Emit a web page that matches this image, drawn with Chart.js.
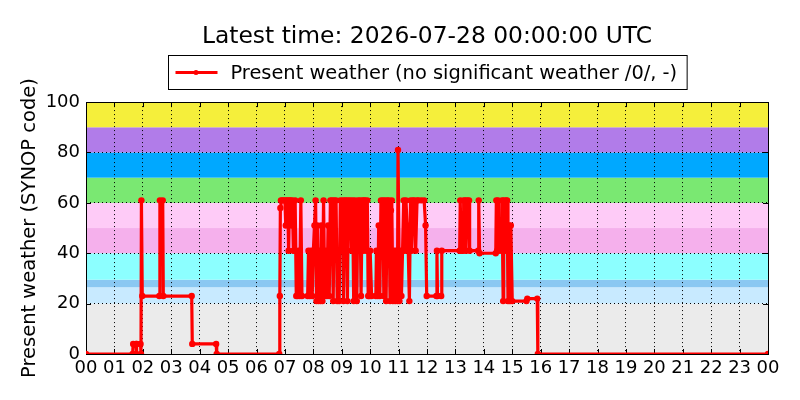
<!DOCTYPE html>
<html>
<head>
<meta charset="utf-8">
<script src="https://cdn.jsdelivr.net/npm/chart.js@4.4.0/dist/chart.umd.min.js"></script>
<style>
  html, body { margin: 0; padding: 0; background: #fff; }
  #wrap { width: 800px; height: 400px; }
</style>
</head>
<body>
<div id="wrap"><canvas id="wxChart"></canvas></div>
<script>
// time of day in hours (UTC) and the reported SYNOP present weather code
const hours = [
  0, 1.64, 1.66, 1.76, 1.77, 1.79, 1.92, 1.935, 1.95, 1.98,
  2.58, 2.6, 2.7, 2.72, 3.72, 3.74, 4.58, 4.6, 6.8, 6.82, 6.84, 6.86,
  6.9, 6.95, 7.0, 7.03, 7.06, 7.1, 7.13, 7.16, 7.2, 7.23, 7.26, 7.3, 7.33, 7.36, 7.4, 7.45, 7.48, 7.52, 7.56, 7.6, 7.8, 7.83, 7.88, 7.92, 7.96,
  8.0, 8.04, 8.08, 8.11, 8.14, 8.18, 8.22, 8.25, 8.28, 8.32, 8.36, 8.4, 8.44, 8.48, 8.52, 8.56, 8.6, 8.63, 8.66, 8.7, 8.73, 8.76, 8.8, 8.84, 8.88, 8.91, 8.95,
  9.0, 9.03, 9.06, 9.1, 9.13, 9.16, 9.2, 9.23, 9.26, 9.3, 9.34, 9.38, 9.42, 9.46, 9.5, 9.53, 9.57, 9.6, 9.64, 9.68, 9.72, 9.75, 9.78, 9.82, 9.86, 9.9, 9.93, 9.97,
  10.0, 10.05, 10.2, 10.22, 10.27, 10.3, 10.34, 10.38, 10.42, 10.45, 10.48, 10.52, 10.56, 10.6, 10.63, 10.66, 10.7, 10.73, 10.76, 10.8, 10.84, 10.88, 10.92, 10.96,
  10.98, 11.03, 11.06, 11.1, 11.14, 11.18, 11.22, 11.26, 11.3, 11.34, 11.38, 11.42, 11.46, 11.5, 11.55, 11.6, 11.65, 11.7, 11.8, 11.9, 11.95, 11.99,
  12.33, 12.35, 12.37, 12.5, 12.52, 13.15, 13.17, 13.2, 13.27, 13.29, 13.35, 13.37, 13.42, 13.48, 13.5, 13.8, 13.82, 13.85,
  14.42, 14.44, 14.47, 14.5, 14.52, 14.62, 14.64, 14.68, 14.7, 14.75, 14.78, 14.82, 14.85, 14.88, 14.92, 14.95, 15.0, 15.5, 15.53, 15.88, 15.9, 24
];
const codes = [
  0, 0, 4, 4, 0, 4, 4, 0, 61, 23,
  23, 61, 61, 23, 23, 4, 4, 0, 0, 23, 58, 61,
  61, 61, 61, 51, 61, 61, 41, 61, 61, 51, 61, 41, 41, 61, 23, 23, 41, 23, 61, 23, 23, 41, 23, 41, 23,
  41, 51, 61, 21, 51, 21, 41, 21, 51, 21, 61, 23, 41, 23, 51, 23, 61, 41, 61, 21, 61, 41, 61, 21, 41, 21, 61,
  41, 61, 21, 61, 41, 61, 21, 61, 51, 61, 41, 61, 21, 61, 51, 21, 61, 41, 61, 23, 61, 41, 61, 61, 41, 61, 23, 23,
  41, 23, 23, 41, 23, 51, 23, 61, 41, 61, 23, 61, 21, 61, 41, 61, 21, 57, 61, 21, 41, 21, 41, 21,
  81, 21, 41, 23, 41, 61, 41, 61, 51, 41, 21, 61, 41, 61, 61, 41, 61, 61, 61, 61, 51, 23,
  23, 41, 23, 23, 41, 41, 61, 41, 41, 61, 61, 41, 61, 61, 41, 41, 61, 40,
  40, 61, 41, 61, 41, 41, 61, 21, 61, 41, 61, 61, 21, 51, 21, 51, 21, 21, 22, 22, 0, 0
];

// background bands of code groups
const bandLow  = [0, 20, 26.5, 29.5, 40, 50, 60, 70, 80, 90];
const bandHigh = [20, 26.5, 29.5, 40, 50, 60, 70, 80, 90, 100];
const bandColors = ['#ebebeb', '#c8eaff', '#8ac8f2', '#8cffff', '#f5b0ec',
                    '#fecbf7', '#7ae872', '#00a8ff', '#b17ce9', '#f5ef3b'];

const xTickLabels = ['00','01','02','03','04','05','06','07','08','09','10','11',
                     '12','13','14','15','16','17','18','19','20','21','22','23','00'];
const yTicks = [0, 20, 40, 60, 80, 100];

const seriesLabel = 'Present weather (no significant weather /0/, -)';
const FONT = 'DejaVu Sans';

const points = hours.map((h, i) => ({x: h, y: codes[i]}));

const bandsPlugin = {
  id: 'bands',
  beforeDraw(chart) {
    const {ctx, chartArea: a, scales: {y}} = chart;
    ctx.save();
    for (let i = 0; i < bandLow.length; i++) {
      const top = y.getPixelForValue(bandHigh[i]);
      const bot = y.getPixelForValue(bandLow[i]);
      ctx.fillStyle = bandColors[i];
      ctx.fillRect(a.left, top, a.right - a.left, bot - top);
    }
    ctx.restore();
  }
};

// box outline and inward tick marks, like the plotting tool's classic style
const framePlugin = {
  id: 'frame',
  beforeDatasetsDraw(chart) {
    const {ctx, chartArea: a, scales: {x, y}} = chart;
    ctx.save();
    ctx.strokeStyle = '#000';
    ctx.lineWidth = 1;
    ctx.beginPath();
    x.ticks.forEach(t => {
      const px = Math.round(x.getPixelForValue(t.value)) + 0.5;
      ctx.moveTo(px, a.bottom); ctx.lineTo(px, a.bottom - 5);
      ctx.moveTo(px, a.top); ctx.lineTo(px, a.top + 5);
    });
    y.ticks.forEach(t => {
      const py = Math.round(y.getPixelForValue(t.value)) + 0.5;
      ctx.moveTo(a.left, py); ctx.lineTo(a.left + 5, py);
      ctx.moveTo(a.right, py); ctx.lineTo(a.right - 5, py);
    });
    ctx.stroke();
    ctx.strokeRect(Math.round(a.left) + 0.5, Math.round(a.top) + 0.5,
                   Math.round(a.right - a.left), Math.round(a.bottom - a.top));
    ctx.restore();
  }
};

const boxLegendPlugin = {
  id: 'boxLegend',
  afterDraw(chart) {
    const {ctx, chartArea: a} = chart;
    const ds = chart.data.datasets[0];
    ctx.save();
    ctx.font = '19.4px "' + FONT + '"';
    const tw = ctx.measureText(ds.label).width;
    const w = 7 + 42 + 13 + tw + 10;
    const cx = (a.left + a.right) / 2;
    const left = Math.round(cx - w / 2) + 0.5;
    const top = 55.5, h = 34;
    ctx.fillStyle = '#fff';
    ctx.fillRect(left, top, w, h);
    ctx.strokeStyle = '#000';
    ctx.lineWidth = 1;
    ctx.strokeRect(left, top, w, h);
    const my = top + h / 2;
    ctx.strokeStyle = ds.borderColor;
    ctx.lineWidth = 3;
    ctx.beginPath();
    ctx.moveTo(left + 7, my); ctx.lineTo(left + 49, my);
    ctx.stroke();
    ctx.fillStyle = ds.borderColor;
    ctx.beginPath();
    ctx.arc(left + 27.5, my, 2.5, 0, Math.PI * 2);
    ctx.fill();
    ctx.fillStyle = '#000';
    ctx.textBaseline = 'middle';
    ctx.fillText(ds.label, left + 62, my + 1);
    ctx.restore();
  }
};

new Chart(document.getElementById('wxChart'), {
  type: 'line',
  data: {
    datasets: [{
      label: seriesLabel,
      data: points,
      borderColor: '#ff0000',
      backgroundColor: '#ff0000',
      borderWidth: 3.2,
      pointRadius: 3.2,
      pointBorderWidth: 0,
      pointBackgroundColor: '#ff0000',
      tension: 0,
      fill: false
    }]
  },
  options: {
    responsive: true,
    maintainAspectRatio: false,
    animation: false,
    layout: { padding: { left: 0, right: 32, top: 0, bottom: 0 } },
    plugins: {
      legend: { display: false },
      tooltip: { enabled: false },
      title: {
        display: true,
        fullSize: false,
        text: 'Latest time: 2026-07-28 00:00:00 UTC',
        color: '#000',
        font: { family: FONT, size: 23.4, weight: 'normal' },
        padding: { top: 23, bottom: 51 }
      }
    },
    scales: {
      x: {
        type: 'linear',
        min: 0,
        max: 24,
        afterBuildTicks: s => { s.ticks = xTickLabels.map((_, i) => ({value: i})); },
        afterFit: s => { s.height = 46; },
        ticks: {
          autoSkip: false,
          maxRotation: 0,
          padding: 4,
          color: '#000',
          font: { family: FONT, size: 18 },
          callback: v => xTickLabels[v]
        },
        grid: { color: '#000', lineWidth: 1, drawTicks: false },
        border: { display: false, dash: [1, 3] }
      },
      y: {
        min: 0,
        max: 100,
        afterBuildTicks: s => { s.ticks = yTicks.map(v => ({value: v})); },
        afterFit: s => { s.width = 86; },
        ticks: {
          padding: 6,
          color: '#000',
          font: { family: FONT, size: 18 }
        },
        title: {
          display: true,
          text: 'Present weather (SYNOP code)',
          color: '#000',
          font: { family: FONT, size: 19.5 },
          padding: { top: 18, bottom: 0 }
        },
        grid: { color: '#000', lineWidth: 1, drawTicks: false },
        border: { display: false, dash: [1, 3] }
      }
    }
  },
  plugins: [bandsPlugin, framePlugin, boxLegendPlugin]
});
</script>
</body>
</html>
